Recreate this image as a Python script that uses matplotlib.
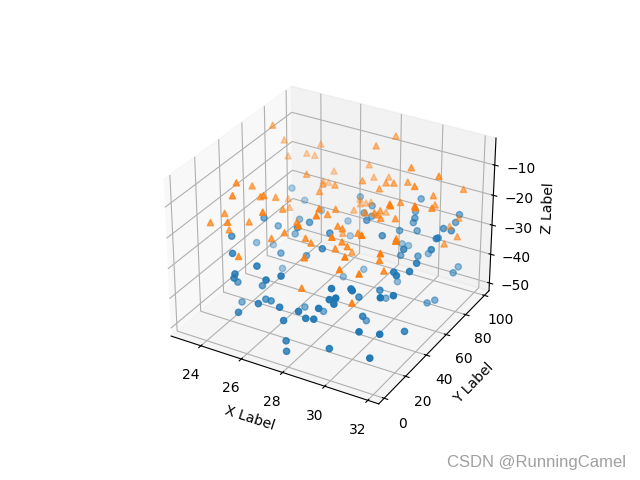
import matplotlib
matplotlib.use("Agg")
import matplotlib.pyplot as plt

# circles
xs1 = [23.07,23.46,24.33,24.38,24.55,26.25,24.18,
       26.04,24.65,27.45,24.03,26.37,29.38,27.47,
       29.45,27.22,31.33,27.65,28.26,29.94,25.70,
       29.59,31.38,31.40,31.77,29.17,29.83,29.46,
       25.82,31.53,23.05,23.12,24.82,24.97,27.83,
       26.03,26.23,24.03,25.39,25.40,24.39,27.00,
       27.49,25.44,29.74,29.85,30.25,30.06,23.98,
       25.88,26.14,26.55,27.57,25.57,26.53,28.52,
       29.46,27.40,28.80,29.23,27.75,27.80,27.87,
       29.85,27.18,26.71,28.40,28.72,30.77,29.63,
       30.41,31.77,29.80,31.76,31.23,31.48,31.29,
       31.51,31.82,28.97,30.43,30.12,29.63,31.77,
       29.19,31.92,30.91,31.09,30.27,29.34,31.27,
       31.96,31.98,31.82,30.54,31.57]
ys1 = [94,99,99,45,74,52,61,
       45,68,48,23,98,98,88,
       91,85,96,84,67,80,99,
       86,91,78,78,81,85,58,
       99,68,61,75,10,49,34,
       53,6,67,2,1,21,0,
       4,24,6,2,0,2,31,
       19,19,1,1,1,42,0,
       0,43,1,0,1,2,1,
       2,86,75,100,100,52,73,
       74,58,98,44,99,88,32,
       30,36,84,10,43,33,10,
       68,19,74,78,24,46,1,
       6,29,0,9,69]
zs1 = [-32,-37,-39,-25,-34,-25,-33,
       -25,-37,-25,-25,-30,-25,-28,
       -27,-30,-26,-30,-25,-25,-40,
       -29,-27,-25,-25,-31,-31,-25,
       -45,-25,-41,-46,-25,-37,-25,
       -37,-25,-50,-28,-29,-39,-26,
       -25,-39,-25,-27,-25,-28,-50,
       -41,-41,-35,-34,-40,-50,-33,
       -30,-50,-35,-34,-38,-45,-48,
       -43,-50,-50,-43,-43,-25,-36,
       -35,-25,-43,-25,-45,-43,-25,
       -25,-25,-50,-25,-37,-37,-25,
       -50,-27,-50,-50,-39,-50,-34,
       -35,-42,-41,-25,-25]

# triangles
xs2 = [23.19,23.15,24.31,23.06,23.64,24.05,
       25.20,24.98,24.48,26.11,24.76,26.60,
       26.32,24.63,24.17,25.08,24.68,26.16,
       24.98,23.71,24.16,25.77,26.85,24.01,
       25.23,23.78,24.85,24.21,28.65,28.84,
       27.61,27.68,26.84,28.50,26.45,27.57,
       26.10,29.97,28.46,28.14,27.58,26.70,
       30.19,27.04,27.73,31.52,27.68,28.77,
       29.19,29.66,31.07,28.65,31.74,31.02,
       30.97,31.93,31.93,30.91,29.86,27.01,
       26.46,26.68,26.86,26.71,29.35,28.01,
       29.22,28.89,29.41,29.67,30.21,31.22,
       28.73,27.30,29.46,31.15,30.97,31.88,
       30.80,25.71,27.83,28.92,28.70,30.37,
       28.57,29.13,29.38,28.42,30.56,31.99,
       30.92,31.93,31.68,31.20,31.13,30.99,
       31.85,30.99]
ys2 = [75,86,99,91,98,98,
       69,99,98,67,98,69,
       60,18,39,7,37,14,
       45,79,72,37,1,18,
       0,10,24,18,16,10,
       43,49,30,1,26,24,
       21,2,36,97,89,100,
       70,98,99,69,74,75,
       74,78,55,71,90,75,
       78,54,38,35,67,96,
       96,92,94,85,58,91,
       55,53,54,52,55,98,
       35,63,35,5,94,82,
       44,0,24,25,2,1,
       2,27,27,50,2,5,
       26,20,73,2,26,0,
       39,34]
zs2 = [-5,-13,-16,-20,-20,-20,
       -16,-24,-28,-17,-28,-17,
       -17,-5,-13,-5,-15,-5,
       -17,-30,-30,-17,-5,-16,
       -11,-17,-19,-21,-5,-5,
       -17,-17,-17,-6,-20,-19,
       -21,-7,-17,-6,-8,-19,
       -5,-22,-21,-5,-15,-14,
       -13,-13,-5,-15,-15,-14,
       -18,-10,-5,-5,-16,-30,
       -30,-30,-30,-30,-17,-30,
       -17,-17,-17,-17,-17,-28,
       -17,-30,-17,-5,-30,-28,
       -19,-21,-20,-20,-16,-16,
       -26,-18,-19,-30,-12,-9,
       -20,-10,-28,-16,-23,-25,
       -5,-5]

fig = plt.figure()
ax = fig.add_subplot(projection='3d')
ax.scatter(xs1, ys1, zs1, marker='o')
ax.scatter(xs2, ys2, zs2, marker='^')
ax.set_xlim(22.5, 32.5)
ax.set_ylim(-5, 105)
ax.set_zlim(-52.7, -1.2)
ax.set_xlabel('X Label')
ax.set_ylabel('Y Label')
ax.set_zlabel('Z Label')
fig.text(0.698, 0.028, 'CSDN @RunningCamel', color='#a0a0a0', fontsize=12, family='Liberation Sans')
fig.savefig('out.png', dpi=100)
